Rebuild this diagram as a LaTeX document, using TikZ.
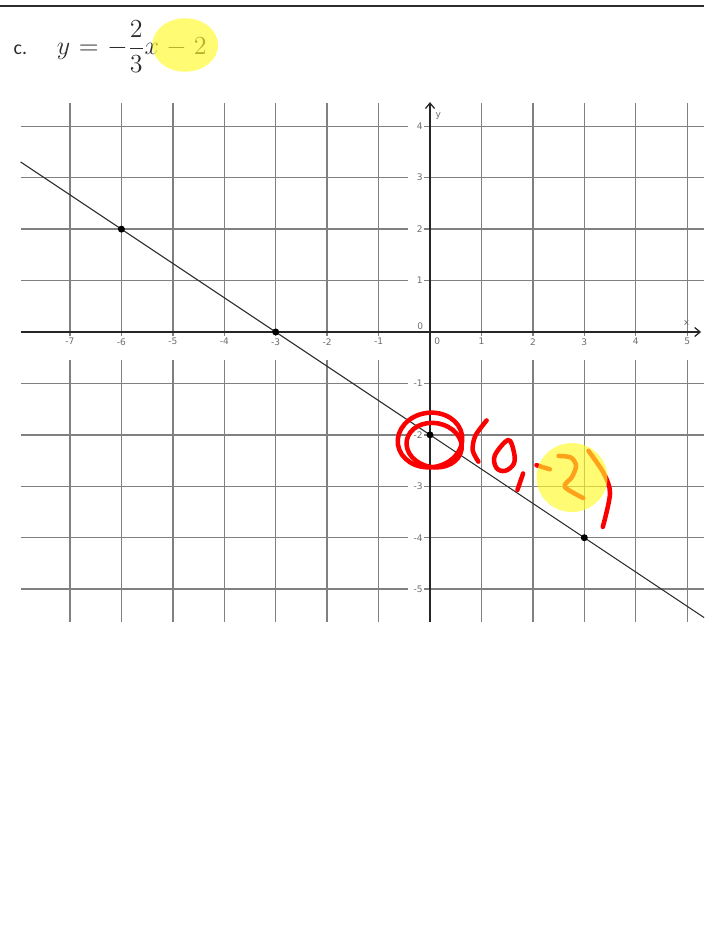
\documentclass[tikz,border=0pt]{standalone}
\usepackage{amsmath}
\usepackage{fontspec}
\setmainfont{Carlito}
\setsansfont{DejaVu Sans}
\usetikzlibrary{arrows.meta, calc}

\definecolor{gridgray}{RGB}{128,128,128}
\definecolor{labgray}{RGB}{110,110,110}
\definecolor{inkgray}{RGB}{45,45,45}
\definecolor{penred}{RGB}{250,0,0}
\definecolor{hilite}{RGB}{255,250,40}
\newcommand{\slopeeq}{$\medmuskip=5mu\relax\thickmuskip=6mu\relax y=-\dfrac{2}{3}x-2$}

\begin{document}
\begin{tikzpicture}[x=1cm,y=1cm,
    gridline/.style={gridgray,line width=0.75pt},
    axisline/.style={black!85,line width=1.1pt,-{Straight Barb[length=3pt,width=5pt,line width=0.7pt]}},
    ticklab/.style={font=\sffamily\fontsize{5}{6}\selectfont,text=labgray,inner sep=0.5pt},
    pen/.style={penred,line width=2.5pt,line cap=round,line join=round},
    marker/.style={fill=hilite,opacity=0.65}]
  \useasboundingbox (-8.361,-12.016) rectangle (5.328,6.455);
  \draw[inkgray,line width=1.1pt](-8.361,6.34)--(5.328,6.34);
  % heading
  \node[anchor=base west,text=inkgray,font=\fontsize{11}{13}\selectfont](part) at (-8.22,5.386){c.};
  \node[anchor=base west,text=inkgray,font=\fontsize{14}{16}\selectfont](eqn) at (-7.38,5.386){\slopeeq};
  \fill[marker](-4.76,5.58) ellipse (0.64 and 0.52);
  % grid
  \foreach \xx in {-7,...,-1,1,2,3,4,5}
    \draw[gridline](\xx,-5.63)--(\xx,4.46);
  \foreach \yy in {-5,...,-1,1,2,3,4}
    \draw[gridline](-7.96,\yy)--(5.33,\yy);
  \fill[white](-7.96,-0.08) rectangle (5.33,-0.54);
  \fill[white](-0.43,-5.63) rectangle (-0.12,4.46);
  \foreach \xx in {-7,...,-1,1,2,3,4,5}
    \node[ticklab,anchor=north](xl\xx) at (\xx,-0.1){\xx};
  \foreach \yy in {-5,...,-1,1,2,3,4}
    \node[ticklab,anchor=east](yl\yy) at (-0.12,\yy){\yy};
  \node[ticklab](xz) at (0.14,-0.18){0};
  \node[ticklab](yz) at (-0.19,0.12){0};
  % axes
  \draw[axisline](-7.96,0)--(5.27,0);
  \draw[axisline](0,-5.63)--(0,4.47);
  \node[ticklab](xn) at (4.99,0.17){x};
  \node[ticklab](yn) at (0.16,4.2){y};
  % graph
  \draw[inkgray,line width=0.6pt,domain=-7.96:5.33,samples=2] plot (\x,{-2/3*\x-2});
  \foreach \pp in {(-6,2),(-3,0),(0,-2),(3,-4)}
    \fill \pp circle(0.068);
  % hand notes
  \draw[pen,rotate around={8:(0,-2.1)}](0,-2.1) ellipse (0.63 and 0.53);
  \draw[pen,rotate around={-10:(0.08,-2.2)}](0.08,-2.2) ellipse (0.54 and 0.43);
  \draw[pen] plot[smooth] coordinates {(1.10,-1.72) (0.88,-2.02) (0.83,-2.30) (0.94,-2.52)};
  \draw[pen] plot[smooth cycle,tension=0.6] coordinates {(1.52,-2.10) (1.26,-2.40) (1.29,-2.64) (1.46,-2.70) (1.63,-2.56) (1.63,-2.33)};
  \draw[pen](1.81,-2.75)--(1.70,-3.07);
  \draw[pen](2.07,-2.59)--(2.33,-2.67);
  \draw[pen] plot[smooth] coordinates {(2.50,-2.41) (2.74,-2.44) (2.84,-2.60) (2.76,-2.82) (2.62,-3.01) (2.98,-3.23)};
  \draw[pen] plot[smooth] coordinates {(3.08,-2.31) (3.38,-2.75) (3.50,-3.14) (3.36,-3.79)};
  \fill[marker](2.76,-2.83) ellipse (0.69 and 0.67);
\end{tikzpicture}
\end{document}
